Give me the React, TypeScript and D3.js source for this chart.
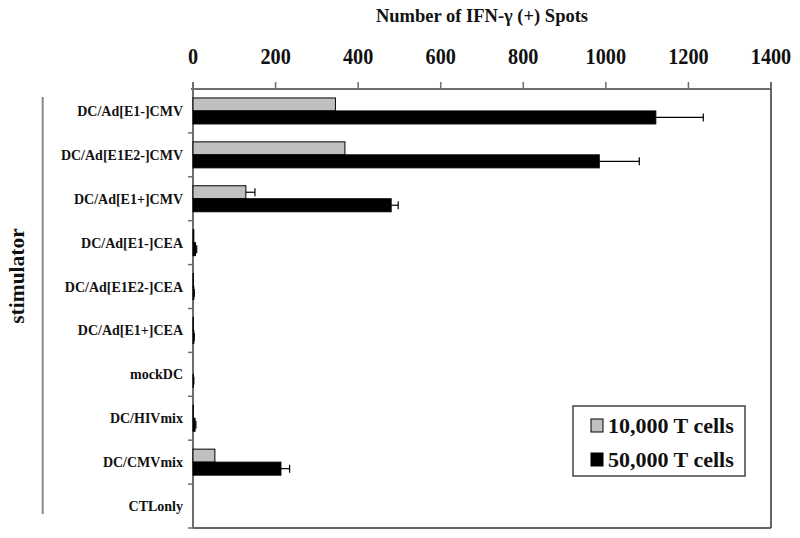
import React from "react";
import * as d3 from "d3";

const categories = [
  "DC/Ad[E1-]CMV",
  "DC/Ad[E1E2-]CMV",
  "DC/Ad[E1+]CMV",
  "DC/Ad[E1-]CEA",
  "DC/Ad[E1E2-]CEA",
  "DC/Ad[E1+]CEA",
  "mockDC",
  "DC/HIVmix",
  "DC/CMVmix",
  "CTLonly",
];
const t10k = [345, 368, 128, 2, 1, 1, 0, 1, 53, 0];
const t10kErr = [0, 0, 22, 0, 0, 0, 0, 0, 0, 0];
const t50k = [1121, 984, 480, 6, 2, 2, 1, 5, 213, 0];
const t50kErr = [115, 97, 17, 3, 1, 1, 1, 2, 21, 0];
const xTicks = [0, 200, 400, 600, 800, 1000, 1200, 1400];
const seriesNames = ["10,000 T cells", "50,000 T cells"];

const W = 800;
const H = 538;
const left = 193;
const right = 771;
const top = 89;
const bottom = 528;
const FONT = "'Liberation Serif', 'Times New Roman', serif";
const AXIS = "#6e6e6e";

export default function App() {
  const x = d3.scaleLinear().domain([0, 1400]).range([left, right]);
  const y = d3.scaleBand<string>().domain(categories).range([top, bottom]);
  const barH = 13;
  const series = [
    { vals: t10k, errs: t10kErr, fill: "#c0c0c0", off: -barH },
    { vals: t50k, errs: t50kErr, fill: "#000000", off: 0 },
  ];

  return (
    <svg
      width={W}
      height={H}
      style={{ position: "absolute", left: 0, top: 0, background: "#fff" }}
      fontFamily={FONT}
    >
      <rect x={0} y={0} width={W} height={H} fill="#fff" />
      {/* title */}
      <text
        x={(left + right) / 2}
        y={21.5}
        textAnchor="middle"
        fontSize={18.5}
        fontWeight="bold"
        fill="#111"
      >
        Number of IFN-γ (+) Spots
      </text>
      {/* tick labels */}
      {xTicks.map((t) => (
        <text
          key={t}
          transform={`translate(${x(t)},64) scale(0.88,1)`}
          textAnchor="middle"
          fontSize={23}
          fontWeight="bold"
          fill="#111"
        >
          {t}
        </text>
      ))}
      {/* plot frame */}
      <line x1={left - 2} x2={right} y1={top} y2={top} stroke={AXIS} strokeWidth={2} />
      <line x1={right} x2={right} y1={top - 7} y2={bottom} stroke="#333" strokeWidth={1.5} />
      <line x1={left} x2={right} y1={bottom} y2={bottom} stroke="#333" strokeWidth={1.5} />
      <line x1={left} x2={left} y1={top - 7} y2={bottom} stroke={AXIS} strokeWidth={2} />
      {xTicks.map((t) => (
        <line key={t} x1={x(t)} x2={x(t)} y1={top - 7} y2={top} stroke={AXIS} strokeWidth={1.5} />
      ))}
      {categories.map((c, i) => (
        <line
          key={c}
          x1={left - 5}
          x2={left}
          y1={top + y.step() * (i + 1)}
          y2={top + y.step() * (i + 1)}
          stroke={AXIS}
          strokeWidth={1.5}
        />
      ))}
      {/* bars */}
      {series.map((s, si) =>
        categories.map((c, i) => {
          const cy = (y(c) as number) + y.bandwidth() / 2 + s.off;
          const v = s.vals[i];
          const e = s.errs[i];
          return (
            <g key={si + c}>
              {v > 0 && (
                <rect
                  x={x(0)}
                  y={cy}
                  width={x(v) - x(0)}
                  height={barH}
                  fill={s.fill}
                  stroke="#000"
                  strokeWidth={1}
                />
              )}
              {e > 0 && (
                <g stroke="#000" strokeWidth={1.2}>
                  <line x1={x(v)} x2={x(v + e)} y1={cy + barH / 2} y2={cy + barH / 2} />
                  <line x1={x(v + e)} x2={x(v + e)} y1={cy + barH / 2 - 4} y2={cy + barH / 2 + 4} />
                </g>
              )}
            </g>
          );
        })
      )}
      {/* category labels */}
      {categories.map((c) => (
        <text
          key={c}
          x={183}
          y={(y(c) as number) + y.bandwidth() / 2 + 5}
          textAnchor="end"
          fontSize={14}
          fontWeight="bold"
          fill="#111"
        >
          {c}
        </text>
      ))}
      {/* y axis title */}
      <line x1={42.7} x2={42.7} y1={97} y2={514} stroke="#888" strokeWidth={2} />
      <text
        transform="translate(24,276) rotate(-90)"
        textAnchor="middle"
        fontSize={21.5}
        fontWeight="bold"
        fill="#111"
      >
        stimulator
      </text>
      {/* legend */}
      <rect x={573} y={406} width={172} height={70} fill="#fff" stroke="#444" strokeWidth={1.5} />
      {seriesNames.map((n, i) => (
        <g key={n}>
          <rect
            x={591}
            y={419 + i * 34}
            width={12}
            height={13}
            fill={series[i].fill}
            stroke="#000"
            strokeWidth={1}
          />
          <text x={608} y={433 + i * 34} fontSize={22} fontWeight="bold" fill="#111">
            {n}
          </text>
        </g>
      ))}
    </svg>
  );
}
